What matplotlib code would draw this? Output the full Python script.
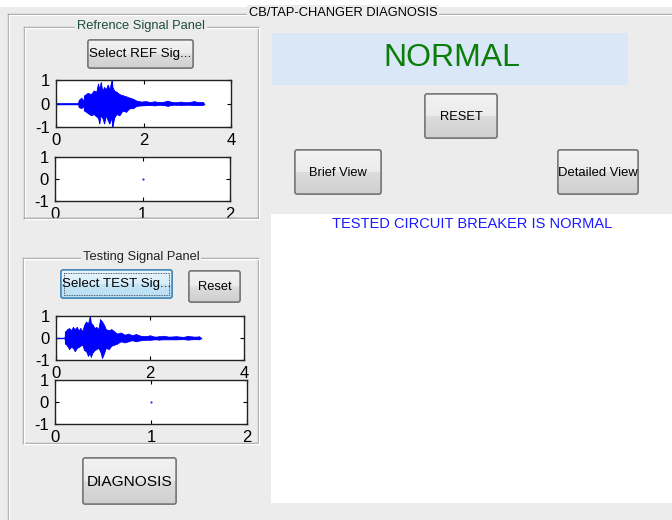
import numpy as np
import matplotlib
matplotlib.use("Agg")
import matplotlib.pyplot as plt
from matplotlib.patches import Rectangle, FancyBboxPatch

plt.rcParams['font.family'] = ['Liberation Sans', 'DejaVu Sans']
plt.rcParams['axes.unicode_minus'] = False

# envelope of the reference signal (time, upper, lower)
ref_t = [0.00, 0.50, 0.52, 0.58, 0.62, 0.65, 0.72, 0.80, 0.86, 0.92, 0.96, 0.99,
         1.02, 1.06, 1.10, 1.14, 1.18, 1.22, 1.27, 1.29, 1.33, 1.38, 1.45, 1.52,
         1.60, 1.68, 1.76, 1.84, 1.95, 2.05, 2.15, 2.25, 2.35, 2.45, 2.55, 2.65,
         2.75, 2.85, 2.95, 3.05, 3.15, 3.25, 3.35, 3.38]
ref_up = [0, 0, 0.15, 0.25, 0.10, 0.35, 0.45, 0.40, 0.55, 0.50, 0.85, 0.60,
          0.90, 0.55, 0.70, 0.60, 0.80, 0.60, 1.00, 0.70, 0.55, 0.50, 0.40, 0.35,
          0.30, 0.25, 0.20, 0.12, 0.08, 0.10, 0.06, 0.09, 0.06, 0.07, 0.12, 0.06,
          0.05, 0.08, 0.05, 0.06, 0.10, 0.06, 0.07, 0]
ref_lo = [0, 0, -0.15, -0.20, -0.10, -0.30, -0.40, -0.50, -0.45, -0.55, -0.60, -0.85,
          -0.50, -0.60, -0.85, -0.50, -0.70, -0.85, -0.60, -1.00, -0.60, -0.45, -0.50, -0.30,
          -0.35, -0.20, -0.20, -0.10, -0.08, -0.07, -0.06, -0.08, -0.05, -0.06, -0.10, -0.05,
          -0.05, -0.06, -0.05, -0.05, -0.06, -0.06, -0.06, 0]

# envelope of the testing signal
test_t = [0.00, 0.18, 0.20, 0.24, 0.28, 0.32, 0.36, 0.40, 0.44, 0.48, 0.52, 0.56,
          0.60, 0.64, 0.68, 0.72, 0.74, 0.78, 0.82, 0.86, 0.90, 0.94, 0.98, 1.02,
          1.06, 1.12, 1.18, 1.24, 1.30, 1.38, 1.46, 1.54, 1.62, 1.70, 1.80, 1.90,
          2.00, 2.10, 2.20, 2.30, 2.40, 2.55, 2.70, 2.80, 2.95, 3.05, 3.08]
test_up = [0, 0, 0.30, 0.40, 0.45, 0.35, 0.50, 0.40, 0.50, 0.35, 0.45, 0.30,
           0.60, 0.75, 0.65, 1.00, 0.70, 0.60, 0.45, 0.50, 0.40, 0.85, 0.75, 0.60,
           0.40, 0.35, 0.40, 0.30, 0.20, 0.25, 0.15, 0.20, 0.12, 0.18, 0.10, 0.08,
           0.12, 0.06, 0.08, 0.10, 0.06, 0.08, 0.05, 0.09, 0.06, 0.07, 0]
test_lo = [0, 0, -0.25, -0.35, -0.50, -0.40, -0.45, -0.60, -0.45, -0.40, -0.35, -0.30,
           -0.55, -0.60, -0.80, -0.70, -0.85, -0.65, -0.55, -0.50, -0.45, -0.60, -0.90, -0.70,
           -0.45, -0.50, -0.35, -0.30, -0.25, -0.15, -0.20, -0.15, -0.10, -0.15, -0.10, -0.08,
           -0.08, -0.06, -0.07, -0.06, -0.06, -0.06, -0.05, -0.07, -0.05, -0.06, 0]

sig_yticks = [-1, 0, 1]
sig_ylabels = ['-1', '0', '1']
wide_xticks = [0, 2, 4]
narrow_xticks = [0, 1, 2]

BG = '#ececec'
W, H = 672, 520

fig = plt.figure(figsize=(6.72, 5.2), dpi=100, facecolor=BG)
bg = fig.add_axes([0, 0, 1, 1])
bg.set_xlim(0, W)
bg.set_ylim(H, 0)
bg.axis('off')
bg.set_zorder(-1)
bg.add_patch(Rectangle((0, 0), W, 7, fc='white', ec='none'))


def etched_box(ax, x0, y0, x1, y1, sides='ltrb', z=1):
    for dx, col in ((0, '#a0a0a0'), (1, 'white')):
        segs = {'l': ([x0, x0], [y0, y1]), 't': ([x0, x1], [y0, y0]),
                'r': ([x1, x1], [y0, y1]), 'b': ([x0, x1], [y1, y1])}
        for s in sides:
            xs, ys = segs[s]
            ax.plot(np.array(xs) + dx, np.array(ys) + dx, color=col, lw=1, zorder=z)


def panel_title(ax, x, y, label, color='black'):
    ax.text(x, y, label, ha='center', va='center', fontsize=9.3, color=color,
            bbox=dict(fc=BG, ec='none', pad=1.5), zorder=3)


def button(ax, x0, y0, x1, y1, label, fs=9.4, focus=False):
    if focus:
        cols = ['#e5f4fc', '#d9effb', '#c4e5f6', '#b9def5']
        edge = '#3c7fb1'
    else:
        cols = ['#f2f2f2', '#ebebeb', '#dddddd', '#cfcfcf']
        edge = '#707070'
    patch = FancyBboxPatch((x0, y0), x1 - x0, y1 - y0,
                           boxstyle='round,pad=0,rounding_size=2',
                           fc=cols[1], ec=edge, lw=1, zorder=4)
    ax.add_patch(patch)
    n = 40
    grad = np.zeros((n, 1, 3))
    for i in range(n):
        f = i / (n - 1)
        if f < 0.5:
            a, b, g = cols[0], cols[1], f / 0.5
        else:
            a, b, g = cols[2], cols[3], (f - 0.5) / 0.5
        ca = np.array(matplotlib.colors.to_rgb(a))
        cb = np.array(matplotlib.colors.to_rgb(b))
        grad[i, 0] = ca + (cb - ca) * g
    im = ax.imshow(grad, extent=[x0, x1, y1, y0], aspect='auto', zorder=4.5,
                   interpolation='bilinear')
    im.set_clip_path(patch)
    ax.add_patch(FancyBboxPatch((x0, y0), x1 - x0, y1 - y0,
                                boxstyle='round,pad=0,rounding_size=2',
                                fc='none', ec=edge, lw=1, zorder=5))
    if focus:
        ax.add_patch(Rectangle((x0 + 3, y0 + 3), x1 - x0 - 6, y1 - y0 - 6,
                               fc='none', ec='#333333', lw=0.6, ls=(0, (1, 1)), zorder=5))
    ax.text((x0 + x1) / 2, (y0 + y1) / 2 + 0.5, label, ha='center', va='center',
            fontsize=fs, color='black', zorder=6)


# outer panel
bg.plot([7.5, 7.5], [14, H], color='#a0a0a0', lw=1)
bg.plot([8.5, 8.5], [15, H], color='white', lw=1)
bg.plot([7.5, W], [14, 14], color='#a0a0a0', lw=1)
bg.plot([8.5, W], [15, 15], color='white', lw=1)
panel_title(bg, 343, 13, 'CB/TAP-CHANGER DIAGNOSIS')

# reference / testing panels
etched_box(bg, 24, 27, 258, 218)
panel_title(bg, 141, 26, 'Refrence Signal Panel', color='#1f4d3a')
etched_box(bg, 23, 258, 258, 443)
panel_title(bg, 141, 257, 'Testing Signal Panel', color='#222222')

button(bg, 88, 40, 193, 68, 'Select REF Sig...', fs=9.6)
button(bg, 61, 270, 172, 298, 'Select TEST Sig...', fs=9.6, focus=True)
button(bg, 189, 271, 240, 302, 'Reset', fs=9.3)
button(bg, 83, 458, 176, 504, 'DIAGNOSIS', fs=11.1)

# right side
bg.add_patch(Rectangle((272, 33), 356, 52, fc='#dae7f6', ec='none'))
bg.text(452, 58, 'NORMAL', ha='center', va='center', fontsize=23, color='#0a7d0a')
button(bg, 425, 94, 497, 138, 'RESET', fs=9.3)
button(bg, 295, 150, 381, 194, 'Brief View', fs=9.3)
button(bg, 558, 150, 638, 194, 'Detailed View', fs=9.4)
bg.add_patch(Rectangle((271, 214), W - 271, 289, fc='white', ec='none'))
bg.text(472, 224, 'TESTED CIRCUIT BREAKER IS NORMAL', ha='center', va='center',
        fontsize=10.5, color='#1a1aff')


def px_axes(x0, y0, x1, y1):
    return fig.add_axes([x0 / W, 1 - y1 / H, (x1 - x0) / W, (y1 - y0) / H])


def style(ax, xticks):
    ax.set_facecolor('white')
    ax.set_ylim(-1, 1)
    ax.set_xlim(xticks[0], xticks[-1])
    ax.set_xticks(xticks)
    ax.set_xticklabels([str(v) for v in xticks])
    ax.set_yticks(sig_yticks)
    ax.set_yticklabels(sig_ylabels)
    ax.tick_params(direction='in', length=3, width=0.8, top=True, right=True,
                   labelsize=12, pad=4.5, colors='black')
    for sp in ax.spines.values():
        sp.set_linewidth(1)
        sp.set_color('#222222')


def draw_signal(ax, t, up, lo):
    ax.fill_between(t, lo, up, color='blue', lw=0.6)
    ax.vlines(t, lo, up, color='blue', lw=0.8)
    ax.plot([t[0], t[-1]], [0, 0], color='blue', lw=1)


ax1 = px_axes(56, 80, 231, 127)
style(ax1, wide_xticks)
draw_signal(ax1, ref_t, ref_up, ref_lo)

ax2 = px_axes(55, 157, 230, 201)
style(ax2, narrow_xticks)
ax2.plot(1, 0, '.', color='blue', ms=1)

ax3 = px_axes(56, 316, 244, 360)
style(ax3, wide_xticks)
draw_signal(ax3, test_t, test_up, test_lo)

ax4 = px_axes(55, 380, 247, 424)
style(ax4, narrow_xticks)
ax4.plot(1, 0, '.', color='blue', ms=1)

# the reference panel's bottom border cuts the lower tick labels
top = fig.add_axes([0, 0, 1, 1])
top.set_xlim(0, W)
top.set_ylim(H, 0)
top.axis('off')
top.set_zorder(10)
top.patch.set_alpha(0)
top.add_patch(Rectangle((20, 218.5), 245, 20, fc=BG, ec='none'))
top.plot([24, 258], [218, 218], color='#a0a0a0', lw=1)
top.plot([25, 259], [219, 219], color='white', lw=1)

fig.savefig('out.png', dpi=100, facecolor=BG)
